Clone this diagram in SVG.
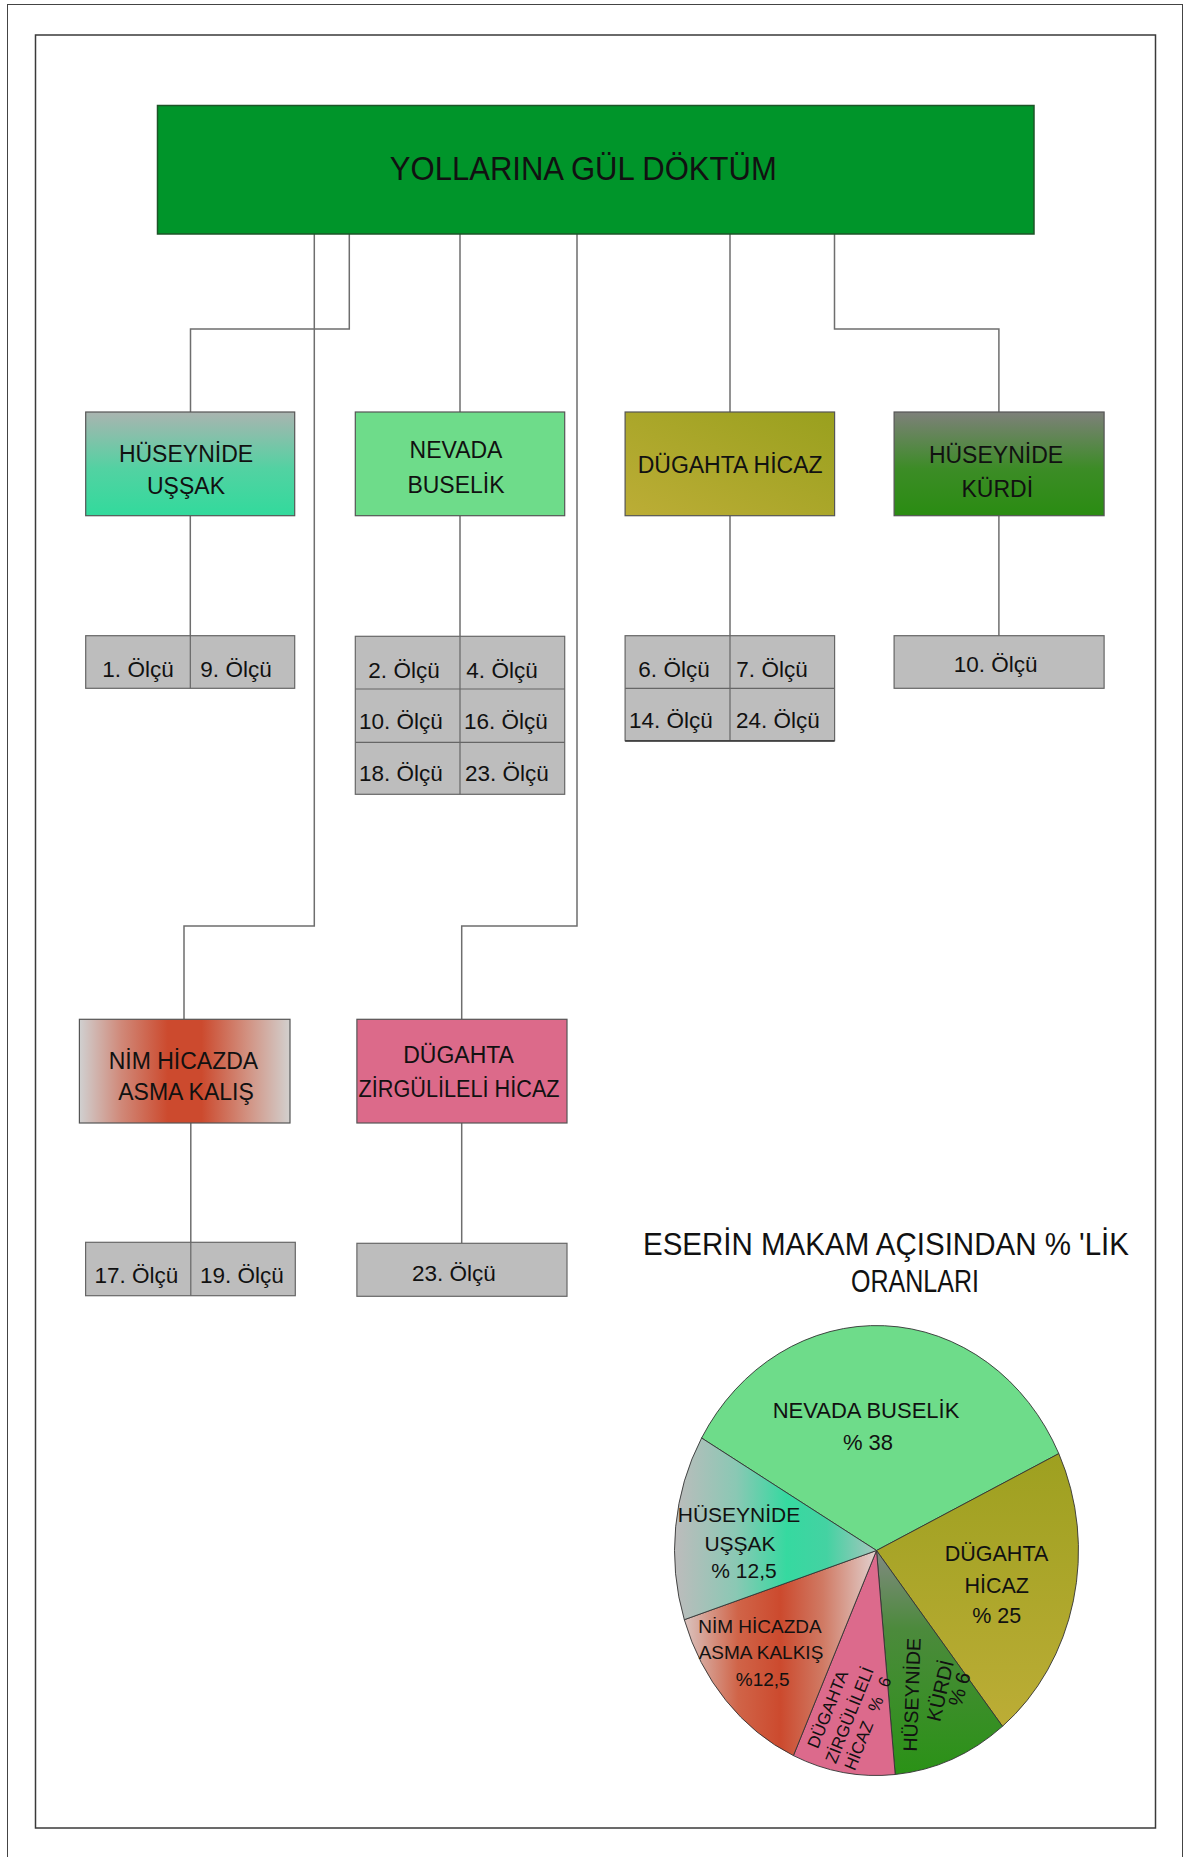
<svg xmlns="http://www.w3.org/2000/svg" width="1188" height="1857" viewBox="0 0 1188 1857">
  <style>
    text { font-family: "Liberation Sans", Arial, sans-serif; fill: #111; }
    .lbl { font-size: 23px; text-anchor: middle; }
    .cell { font-size: 22.5px; text-anchor: middle; }
    .box { stroke: #555; stroke-width: 1.2; }
    .tbl { fill: #bdbdbd; stroke: #666; stroke-width: 1.2; }
    .div { stroke: #666; stroke-width: 1.2; fill: none; }
    .conn path { fill: none; stroke: #6e6e6e; stroke-width: 1.5; }
    .slice { stroke: #333; stroke-width: 0.9; }
    .pl { text-anchor: middle; }
  </style>
  <defs>
    <linearGradient id="gUssak" x1="0" y1="0" x2="0" y2="1">
      <stop offset="0" stop-color="#aab4b0"/>
      <stop offset="0.55" stop-color="#52d2a2"/>
      <stop offset="1" stop-color="#32da9c"/>
    </linearGradient>
    <linearGradient id="gHicaz" x1="1" y1="0" x2="0" y2="1">
      <stop offset="0" stop-color="#99a01e"/>
      <stop offset="1" stop-color="#bcad36"/>
    </linearGradient>
    <linearGradient id="gKurdi" x1="0" y1="0" x2="0" y2="1">
      <stop offset="0" stop-color="#7e807a"/>
      <stop offset="0.55" stop-color="#3c8c26"/>
      <stop offset="1" stop-color="#2a8c12"/>
    </linearGradient>
    <linearGradient id="gNim" x1="0" y1="0" x2="1" y2="0">
      <stop offset="0" stop-color="#d0d0d0"/>
      <stop offset="0.2" stop-color="#d08878"/>
      <stop offset="0.42" stop-color="#cc4a2e"/>
      <stop offset="0.58" stop-color="#cc4a2e"/>
      <stop offset="0.8" stop-color="#d29282"/>
      <stop offset="1" stop-color="#d2d0ce"/>
    </linearGradient>
    <linearGradient id="pUssak" gradientUnits="userSpaceOnUse" x1="676" y1="0" x2="877" y2="0">
      <stop offset="0" stop-color="#bcbcbc"/>
      <stop offset="0.3" stop-color="#8ac8b4"/>
      <stop offset="0.55" stop-color="#36d9a0"/>
      <stop offset="0.75" stop-color="#44d2a2"/>
      <stop offset="1" stop-color="#a8c6be"/>
    </linearGradient>
    <linearGradient id="pNim" gradientUnits="userSpaceOnUse" x1="684" y1="0" x2="877" y2="0">
      <stop offset="0" stop-color="#dac4c0"/>
      <stop offset="0.28" stop-color="#d06448"/>
      <stop offset="0.5" stop-color="#cc4a2e"/>
      <stop offset="0.72" stop-color="#d07a64"/>
      <stop offset="1" stop-color="#e2d2d0"/>
    </linearGradient>
    <linearGradient id="pKurdi" gradientUnits="userSpaceOnUse" x1="0" y1="1550" x2="0" y2="1775">
      <stop offset="0" stop-color="#828a82"/>
      <stop offset="0.35" stop-color="#4c8a3c"/>
      <stop offset="1" stop-color="#2a9216"/>
    </linearGradient>
    <linearGradient id="pHicaz" gradientUnits="userSpaceOnUse" x1="0" y1="1455" x2="0" y2="1730">
      <stop offset="0" stop-color="#9ea020"/>
      <stop offset="1" stop-color="#bcad36"/>
    </linearGradient>
  </defs>

  <!-- page frames -->
  <rect x="7.5" y="4.5" width="1175" height="1870" fill="#fff" stroke="#444" stroke-width="1"/>
  <rect x="35.5" y="35" width="1120" height="1793" fill="#fff" stroke="#3a3a3a" stroke-width="1.5"/>

  <!-- connectors -->
  <g id="connectors" class="conn">
    <path d="M349.3 234 V329 H190.5 V412"/>
    <path d="M314.3 234 V926 H184 V1019"/>
    <path d="M460 234 V412"/>
    <path d="M577 234 V926 H461.7 V1019"/>
    <path d="M730 234 V412"/>
    <path d="M834.5 234 V329 H998.9 V412"/>
    <path d="M190.3 516 V636"/>
    <path d="M460 516 V636"/>
    <path d="M730 516 V636"/>
    <path d="M998.9 516 V636"/>
    <path d="M190.8 1123 V1242"/>
    <path d="M461.7 1123 V1243"/>
  </g>

  <!-- root -->
  <g id="root">
    <rect x="157.5" y="105.5" width="876.5" height="128.5" fill="#00952a" stroke="#1e5428" stroke-width="1.5"/>
    <text x="583.3" y="180" font-size="33" text-anchor="middle" textLength="387" lengthAdjust="spacingAndGlyphs">YOLLARINA GÜL DÖKTÜM</text>
  </g>

  <!-- makam nodes -->
  <g id="huseynide-ussak">
    <rect class="box" x="85.7" y="412" width="209" height="103.7" fill="url(#gUssak)"/>
    <text class="lbl" x="186" y="461.7">HÜSEYNİDE</text>
    <text class="lbl" x="186" y="494">UŞŞAK</text>
  </g>
  <g id="nevada-buselik">
    <rect class="box" x="355.3" y="412" width="209.4" height="103.7" fill="#6edc8a"/>
    <text class="lbl" x="456" y="458.3">NEVADA</text>
    <text class="lbl" x="456" y="492.7">BUSELİK</text>
  </g>
  <g id="dugahta-hicaz">
    <rect class="box" x="625.1" y="412" width="209.5" height="103.7" fill="url(#gHicaz)"/>
    <text class="lbl" x="730.1" y="472.7">DÜGAHTA HİCAZ</text>
  </g>
  <g id="huseynide-kurdi">
    <rect class="box" x="894.1" y="412" width="210" height="103.7" fill="url(#gKurdi)"/>
    <text class="lbl" x="996" y="462.7">HÜSEYNİDE</text>
    <text class="lbl" x="997.3" y="497.3">KÜRDİ</text>
  </g>
  <g id="nim-hicazda">
    <rect class="box" x="79.4" y="1019.3" width="210.6" height="103.7" fill="url(#gNim)"/>
    <text class="lbl" x="183.4" y="1069">NİM HİCAZDA</text>
    <text class="lbl" x="186" y="1100">ASMA KALIŞ</text>
  </g>
  <g id="dugahta-zirgulileli">
    <rect class="box" x="356.9" y="1019.3" width="210.1" height="103.7" fill="#dc6a8a"/>
    <text class="lbl" x="458.6" y="1062.7">DÜGAHTA</text>
    <text class="lbl" x="459.1" y="1096.7" textLength="201" lengthAdjust="spacingAndGlyphs">ZİRGÜLİLELİ HİCAZ</text>
  </g>

  <!-- measure tables -->
  <g id="olcu-ussak">
    <rect class="tbl" x="85.7" y="635.7" width="209" height="52.6"/>
    <path class="div" d="M190.3 635.7 V688.3"/>
    <text class="cell" x="138" y="677">1. Ölçü</text>
    <text class="cell" x="236" y="677">9. Ölçü</text>
  </g>
  <g id="olcu-nevada">
    <rect class="tbl" x="355.3" y="636.3" width="209.4" height="158"/>
    <path class="div" d="M460 636.3 V794.3 M355.3 689 H564.7 M355.3 742.3 H564.7"/>
    <text class="cell" x="404" y="677.5">2. Ölçü</text>
    <text class="cell" x="502" y="677.5">4. Ölçü</text>
    <text class="cell" x="401" y="729">10. Ölçü</text>
    <text class="cell" x="506" y="729">16. Ölçü</text>
    <text class="cell" x="401" y="780.5">18. Ölçü</text>
    <text class="cell" x="507" y="780.5">23. Ölçü</text>
  </g>
  <g id="olcu-hicaz">
    <rect class="tbl" x="625.1" y="635.7" width="209.5" height="105"/>
    <path class="div" d="M730 635.7 V740.7 M625.1 688.3 H834.6"/>
    <path d="M625.1 741 H834.6" stroke="#333" stroke-width="1.5"/>
    <text class="cell" x="674" y="677">6. Ölçü</text>
    <text class="cell" x="772" y="677">7. Ölçü</text>
    <text class="cell" x="671" y="727.5">14. Ölçü</text>
    <text class="cell" x="778" y="727.5">24. Ölçü</text>
  </g>
  <g id="olcu-kurdi">
    <rect class="tbl" x="894.1" y="635.7" width="210" height="52.6"/>
    <text class="cell" x="995.6" y="672">10. Ölçü</text>
  </g>
  <g id="olcu-nim">
    <rect class="tbl" x="85.6" y="1242.3" width="209.7" height="53.4"/>
    <path class="div" d="M190.8 1242.3 V1295.7"/>
    <text class="cell" x="136.5" y="1283.3">17. Ölçü</text>
    <text class="cell" x="242" y="1283.3">19. Ölçü</text>
  </g>
  <g id="olcu-zirgulileli">
    <rect class="tbl" x="356.9" y="1243.3" width="210.1" height="53"/>
    <text class="cell" x="454" y="1281">23. Ölçü</text>
  </g>

  <!-- percentage chart -->
  <g id="chart">
    <text x="643" y="1255" font-size="31" textLength="486" lengthAdjust="spacingAndGlyphs">ESERİN MAKAM AÇISINDAN % 'LİK</text>
    <text x="851" y="1292" font-size="31" textLength="128" lengthAdjust="spacingAndGlyphs">ORANLARI</text>

    <path class="slice" fill="#6edc8a" d="M876.5 1550.5 L701.6 1438 A202 225 0 0 1 1058.8 1453.6 Z"/>
    <path class="slice" fill="url(#pHicaz)" d="M876.5 1550.5 L1058.8 1453.6 A202 225 0 0 1 1002.5 1726.3 Z"/>
    <path class="slice" fill="url(#pKurdi)" d="M876.5 1550.5 L1002.5 1726.3 A202 225 0 0 1 895.2 1774.5 Z"/>
    <path class="slice" fill="#dc6a8c" d="M876.5 1550.5 L895.2 1774.5 A202 225 0 0 1 793.4 1755.6 Z"/>
    <path class="slice" fill="url(#pNim)" d="M876.5 1550.5 L793.4 1755.6 A202 225 0 0 1 684.3 1619.7 Z"/>
    <path class="slice" fill="url(#pUssak)" d="M876.5 1550.5 L684.3 1619.7 A202 225 0 0 1 701.6 1438 Z"/>

    <text class="pl" x="866" y="1418" font-size="22">NEVADA BUSELİK</text>
    <text class="pl" x="868" y="1450" font-size="22">% 38</text>

    <text class="pl" x="739" y="1521.7" font-size="21">HÜSEYNİDE</text>
    <text class="pl" x="740" y="1550.7" font-size="21">UŞŞAK</text>
    <text class="pl" x="744" y="1578.3" font-size="21">% 12,5</text>

    <text class="pl" x="996.5" y="1561" font-size="21.5">DÜGAHTA</text>
    <text class="pl" x="996.7" y="1593.3" font-size="21.5">HİCAZ</text>
    <text class="pl" x="996.7" y="1622.7" font-size="21.5">% 25</text>

    <text class="pl" x="760" y="1632.7" font-size="19">NİM HİCAZDA</text>
    <text class="pl" x="761" y="1659.3" font-size="19">ASMA KALKIŞ</text>
    <text class="pl" x="762.7" y="1686" font-size="19">%12,5</text>

    <text class="pl" font-size="17" transform="translate(833.2 1711.5) rotate(-68)">DÜGAHTA</text>
    <text class="pl" font-size="17" transform="translate(854.9 1717.3) rotate(-68)">ZİRGÜLİLELİ</text>
    <text class="pl" font-size="17" word-spacing="7" transform="translate(873.2 1725.6) rotate(-68)">HİCAZ % 6</text>

    <text class="pl" font-size="19.5" transform="translate(918.7 1695) rotate(-88)">HÜSEYNİDE</text>
    <text class="pl" font-size="20" transform="translate(947 1692.3) rotate(-77)">KÜRDİ</text>
    <text class="pl" font-size="20" transform="translate(966 1691) rotate(-74)">% 6</text>
  </g>
</svg>
